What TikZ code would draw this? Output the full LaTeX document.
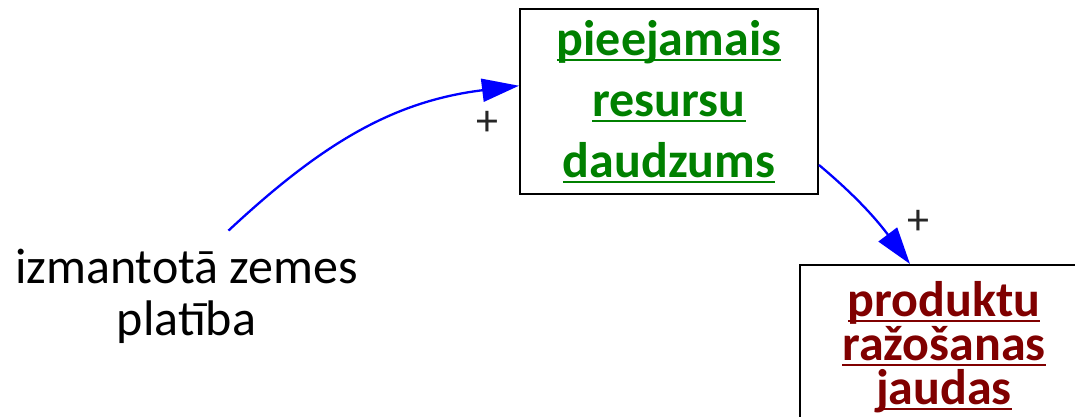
\documentclass[tikz,border=0pt]{standalone}
\usepackage{fontspec}
\setmainfont{Carlito}
\usepackage{tikz}
\usetikzlibrary{arrows.meta,positioning}
\definecolor{resgreen}{RGB}{0,128,0}
\definecolor{prodred}{RGB}{128,0,0}
\newsavebox{\UlBox}
\newcommand{\UlWord}[1]{\sbox\UlBox{#1}\rlap{\rule[-5pt]{\wd\UlBox}{2pt}}\usebox\UlBox}
\newcommand{\TightLines}{\lineskiplimit=-50pt\relax}

\begin{document}
\begin{tikzpicture}[x=1pt,y=1pt,>={Triangle[length=37pt,width=23pt]}
        ,level/.style = {draw=black,line width=2pt,rectangle,align=center,inner sep=0pt}
        ,flow/.style = {draw=blue,line width=2.3pt}
        ,sign/.style = {font=\fontsize{44}{44}\selectfont,text=black!85}
      ]
      \useasboundingbox (0,0) rectangle (1075,-416);

      \node[level,minimum width=298pt,minimum height=185pt,text=resgreen
        ,font=\fontsize{50}{61}\selectfont\bfseries] (res) at (669,-101.5)
        {\UlWord{pieejamais}\\\UlWord{resursu}\\\UlWord{daudzums}};
      \node[level,minimum width=288pt,minimum height=165pt,text=prodred
        ,font=\fontsize{50}{44}\selectfont\TightLines\bfseries] (prod) at (944,-347.5)
        {\UlWord{produktu}\\\UlWord{ražošanas}\\\UlWord{jaudas}};
      \node[align=center,inner sep=0pt,font=\fontsize{50}{52}\selectfont] (area) at (186.5,-296)
        {izmantotā zemes\\platība};

      \node[sign] (plusin) at (487,-123) {+};
      \node[sign] (plusout) at (918,-222) {+};

      \draw[flow,->] ([xshift=42pt,yshift=18pt]area.north) to[out=43,in=187] (res.174);
      \draw[flow,->] ([yshift=-63.5pt]res.east) to[out=-40,in=127] ([xshift=-34pt]prod.north);
\end{tikzpicture}
\end{document}
